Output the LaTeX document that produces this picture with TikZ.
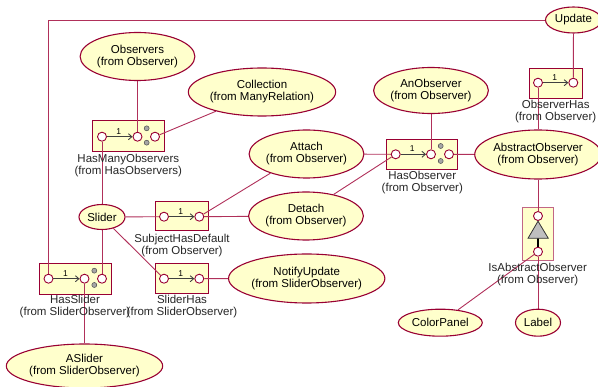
\documentclass[tikz,border=0pt]{standalone}
\usepackage{fontspec}
\setmainfont{Liberation Sans}
\usetikzlibrary{shapes.geometric,arrows.meta}
\definecolor{crim}{HTML}{990033}
\definecolor{lcrim}{HTML}{B0305A}
\definecolor{fillY}{HTML}{FFFFCC}
\pgfdeclarelayer{back}
\pgfdeclarelayer{mid}
\pgfsetlayers{back,mid,main}
\tikzset{
  uc/.style={ellipse, draw=crim, fill=fillY, line width=1.1pt, inner sep=0pt, align=center,
    font=\fontsize{11.5}{12}\selectfont},
  boxn/.style={rectangle, draw=crim, fill=fillY, line width=1pt, inner sep=0pt},
  port/.style={circle, draw=crim, fill=white, line width=0.9pt, minimum size=9pt, inner sep=0pt},
  gdot/.style={circle, draw=black!70, fill=black!35, line width=0.5pt, minimum size=5pt, inner sep=0pt},
  conn/.style={draw=lcrim, line width=0.9pt},
  parr/.style={draw=black!75, line width=0.9pt, -{Straight Barb[length=3.5pt,width=6pt]}},
  onel/.style={font=\fontsize{8.5}{9}\selectfont, inner sep=0pt, above=2pt, xshift=-1pt},
  blabel/.style={align=center, inner sep=0pt, font=\fontsize{11.5}{12}\selectfont, text=black!85}
}
\begin{document}
\begin{tikzpicture}[x=1pt,y=-1pt]
\useasboundingbox (0,0) rectangle (598,387);
\begin{pgfonlayer}{back}
\node[boxn, minimum width=72pt, minimum height=31pt] (hmo) at (128.5,136) {};
\node[boxn, minimum width=53pt, minimum height=29pt] (shd) at (182,216) {};
\node[boxn, minimum width=72pt, minimum height=31pt] (hs) at (75.5,279) {};
\node[boxn, minimum width=53pt, minimum height=30pt] (sh) at (182,278.5) {};
\node[boxn, minimum width=71pt, minimum height=30pt] (ho) at (422,154.5) {};
\node[boxn, minimum width=53pt, minimum height=30pt] (oh) at (556,83.5) {};
\node[boxn, draw=crim!60, minimum width=31pt, minimum height=53pt] (ia) at (538,234) {};
\end{pgfonlayer}
% ellipses
\node[uc, minimum width=114pt, minimum height=48pt] (obs) at (137.5,56.5) {Observers\\(from Observer)};
\node[uc, minimum width=144pt, minimum height=48pt] (coll) at (262,92) {Collection\\(from ManyRelation)};
\node[uc, minimum width=114pt, minimum height=46pt] (anobs) at (431,90.5) {AnObserver\\(from Observer)};
\node[uc, minimum width=56pt, minimum height=26pt] (upd) at (573.5,20) {Update};
\node[uc, minimum width=121pt, minimum height=49pt] (abs) at (538,154.5) {AbstractObserver\\(from Observer)};
\node[uc, minimum width=113pt, minimum height=48pt] (att) at (306.5,154) {Attach\\(from Observer)};
\node[uc, minimum width=114pt, minimum height=48pt] (det) at (306,216) {Detach\\(from Observer)};
\node[uc, minimum width=46pt, minimum height=25pt] (sl) at (102,217) {Slider};
\node[uc, minimum width=155pt, minimum height=49pt] (notify) at (306.7,278.5) {NotifyUpdate\\(from SliderObserver)};
\node[uc, minimum width=154pt, minimum height=44pt] (aslider) at (84.5,366) {ASlider\\(from SliderObserver)};
\node[uc, minimum width=84pt, minimum height=27pt] (cp) at (440.3,322.7) {ColorPanel};
\node[uc, minimum width=45pt, minimum height=27pt] (lab) at (538,322.7) {Label};
% ports
\node[port] (hmoL) at (102,136.7) {};
\node[port] (hmoM) at (137.5,136.7) {};
\node[port] (hmoR) at (155,136.7) {};
\node[gdot] (hmoD1) at (146.7,128.3) {};
\node[gdot] (hmoD2) at (146.7,142.7) {};
\node[port] (shdL) at (164,216.7) {};
\node[port] (shdR) at (199.3,216.7) {};
\node[port] (hsL) at (48.5,278.7) {};
\node[port] (hsM) at (84.5,278.7) {};
\node[port] (hsR) at (102,278.7) {};
\node[gdot] (hsD1) at (94.3,270.7) {};
\node[gdot] (hsD2) at (94.3,285) {};
\node[port] (shL) at (164,278.7) {};
\node[port] (shR) at (199.3,278.7) {};
\node[port] (hoL) at (395.7,154.3) {};
\node[port] (hoM) at (431,154.3) {};
\node[port] (hoR) at (449,154.3) {};
\node[gdot] (hoD1) at (440.7,146) {};
\node[gdot] (hoD2) at (440.7,161) {};
\node[port] (ohL) at (538,82.7) {};
\node[port] (ohR) at (573.3,82.7) {};
\node[port] (iaT) at (538,216) {};
\node[port] (iaB) at (538,251.7) {};
% inheritance triangle
\coordinate (triA) at (538,221.2);
\coordinate (triL) at (528,238.3);
\coordinate (triR) at (548.3,238.3);
\coordinate (triM) at (538,238.3);
\draw[black, line width=2pt] (triM) -- (iaB.north);
\draw[fill=black!25, draw=black!80, line width=0.8pt] (triA) -- (triR) -- (triL) -- cycle;
% arrows inside boxes
\draw[parr] (hmoL) -- node[onel]{1} (hmoM);
\draw[parr] (shdL) -- node[onel]{1} (shdR);
\draw[parr] (hsL) -- node[onel]{1} (hsM);
\draw[parr] (shL) -- node[onel]{1} (shR);
\draw[parr] (hoL) -- node[onel]{1} (hoM);
\draw[parr] (ohL) -- node[onel]{1} (ohR);
% connectors
\begin{pgfonlayer}{mid}
\draw[conn] (upd) -| (hsL);
\draw[conn] (upd) -- (ohR);
\draw[conn] (obs) -- (hmoM);
\draw[conn] (coll) -- (hmoR);
\draw[conn] (hmoL) -- (sl);
\draw[conn] (sl) -- (shdL);
\draw[conn] (sl) -- (hsR);
\draw[conn] (sl) -- (shL);
\draw[conn] (hsM) -- (aslider);
\draw[conn] (shdR) -- (att.208);
\draw[conn] (shdR) -- (det);
\draw[conn] (shR) -- (notify);
\draw[conn] (att) -- (hoL);
\draw[conn] (det.38) -- (hoL);
\draw[conn] (anobs) -- (hoM);
\draw[conn] (hoR) -- (abs);
\draw[conn] (ohL) -- (abs);
\draw[conn] (abs) -- (iaT);
\draw[conn] (iaB) -- (cp);
\draw[conn] (iaB) -- (lab);
\end{pgfonlayer}
% box labels
\node[blabel] (hmoLab) at (128.3,165.8) {HasManyObservers\\(from HasObservers)};
\node[blabel] (shdLab) at (182,245.2) {SubjectHasDefault\\(from Observer)};
\node[blabel] (hsLab) at (75,306.7) {HasSlider\\(from SliderObserver)};
\node[blabel] (shLab) at (182,306.7) {SliderHas\\(from SliderObserver)};
\node[blabel] (hoLab) at (422.3,183) {HasObserver\\(from Observer)};
\node[blabel] (ohLab) at (555.7,112) {ObserverHas\\(from Observer)};
\node[blabel] (iaLab) at (537.7,274.2) {IsAbstractObserver\\(from Observer)};
\end{tikzpicture}
\end{document}
